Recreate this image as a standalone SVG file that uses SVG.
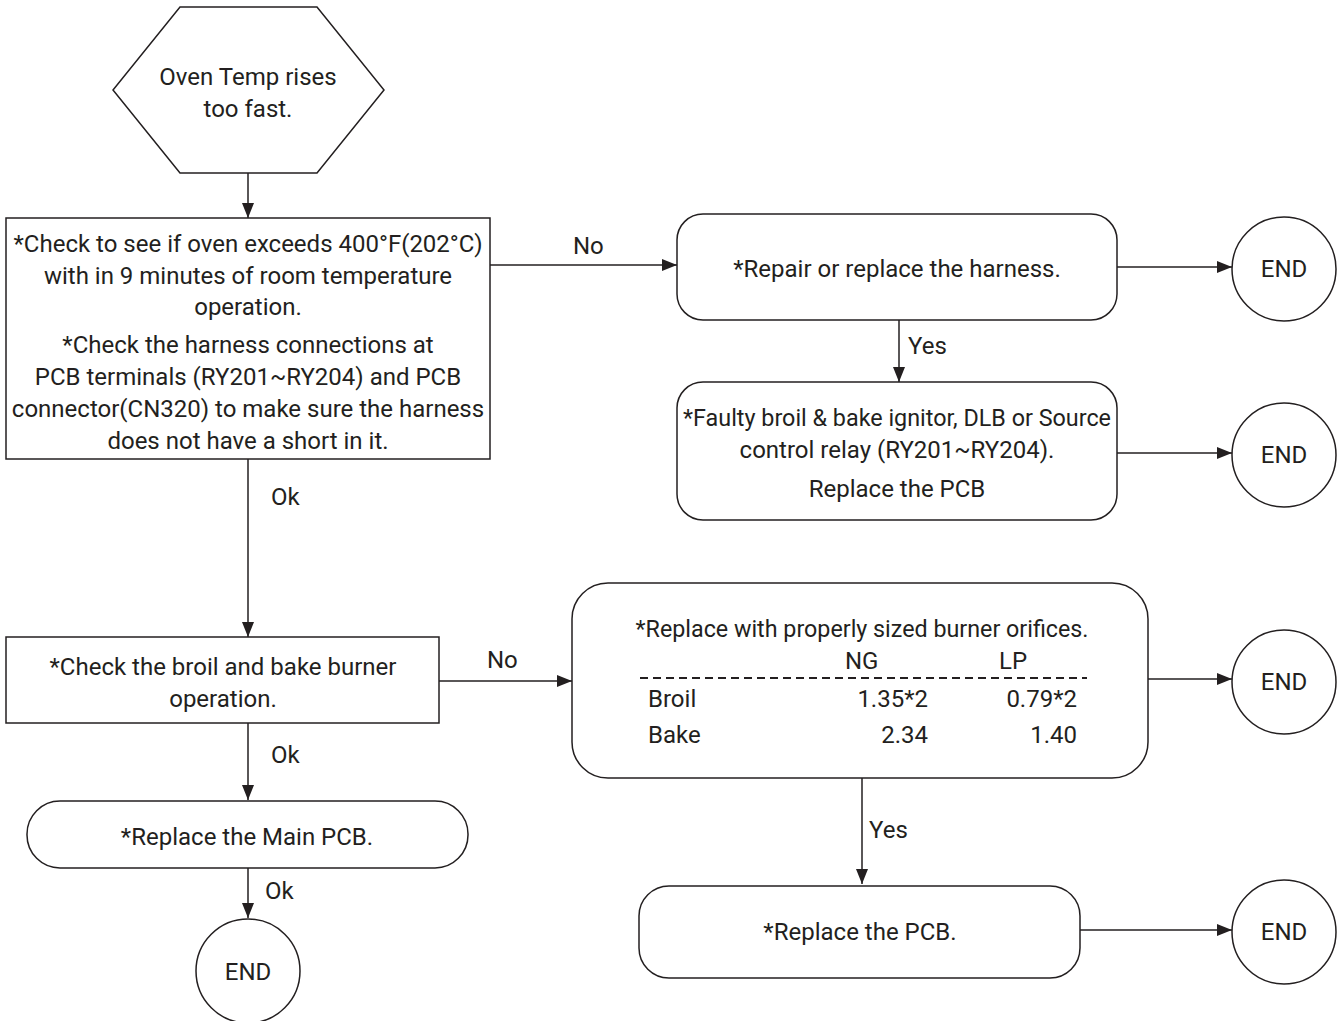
<svg xmlns="http://www.w3.org/2000/svg" width="1340" height="1021" viewBox="0 0 1340 1021">
<defs>
<marker id="ah" viewBox="0 0 15 12" refX="15" refY="6" markerWidth="15" markerHeight="12" markerUnits="userSpaceOnUse" orient="auto">
<path d="M0,0 L15,6 L0,12 Z" fill="#231f20"/>
</marker>
<style>
.s{fill:#fff;stroke:#231f20;stroke-width:1.5}
.t{font-family:Roboto,"Liberation Sans",sans-serif;font-size:24px;fill:#231f20;text-anchor:middle}
.l{font-family:Roboto,"Liberation Sans",sans-serif;font-size:24px;fill:#231f20}
.r{font-family:Roboto,"Liberation Sans",sans-serif;font-size:24px;fill:#231f20;text-anchor:end}
.c{fill:none;stroke:#231f20;stroke-width:1.5}
</style>
</defs>
<rect width="1340" height="1021" fill="#fff"/>
<g id="connectors">
<line class="c" x1="248" y1="173" x2="248" y2="218" marker-end="url(#ah)"/>
<line class="c" x1="490" y1="265" x2="677" y2="265" marker-end="url(#ah)"/>
<text class="l" x="573" y="254">No</text>
<line class="c" x1="1117" y1="267" x2="1232" y2="267" marker-end="url(#ah)"/>
<line class="c" x1="899" y1="320" x2="899" y2="382" marker-end="url(#ah)"/>
<text class="l" x="908" y="354">Yes</text>
<line class="c" x1="1117" y1="453" x2="1232" y2="453" marker-end="url(#ah)"/>
<line class="c" x1="248" y1="458" x2="248" y2="637" marker-end="url(#ah)"/>
<text class="l" x="271" y="505">Ok</text>
<line class="c" x1="439" y1="681" x2="572" y2="681" marker-end="url(#ah)"/>
<text class="l" x="487" y="668">No</text>
<line class="c" x1="1148" y1="679" x2="1232" y2="679" marker-end="url(#ah)"/>
<line class="c" x1="862" y1="778" x2="862" y2="884" marker-end="url(#ah)"/>
<text class="l" x="869" y="838">Yes</text>
<line class="c" x1="1080" y1="930" x2="1232" y2="930" marker-end="url(#ah)"/>
<line class="c" x1="248" y1="723" x2="248" y2="800" marker-end="url(#ah)"/>
<text class="l" x="271" y="763">Ok</text>
<line class="c" x1="248" y1="868" x2="248" y2="918" marker-end="url(#ah)"/>
<text class="l" x="265" y="899">Ok</text>
</g>
<g id="start">
<polygon class="s" points="180,7 317,7 384,90 317,173 180,173 113,90"/>
<text class="t" x="248" y="85">Oven Temp rises</text>
<text class="t" x="248" y="117">too fast.</text>
</g>
<g id="check1">
<rect class="s" x="6" y="218" width="484" height="241"/>
<text class="t" x="248" y="252">*Check to see if oven exceeds 400°F(202°C)</text>
<text class="t" x="248" y="284">with in 9 minutes of room temperature</text>
<text class="t" x="248" y="315">operation.</text>
<text class="t" x="248" y="353">*Check the harness connections at</text>
<text class="t" x="248" y="385">PCB terminals (RY201~RY204) and PCB</text>
<text class="t" x="248" y="417">connector(CN320) to make sure the harness</text>
<text class="t" x="248" y="449">does not have a short in it.</text>
</g>
<g id="repair">
<rect class="s" x="677" y="214" width="440" height="106" rx="26"/>
<text class="t" x="897" y="277">*Repair or replace the harness.</text>
</g>
<g id="end1">
<circle class="s" cx="1284" cy="269" r="52"/>
<text class="t" x="1284" y="277">END</text>
</g>
<g id="faulty">
<rect class="s" x="677" y="382" width="440" height="138" rx="26"/>
<text class="t" x="897" y="426" textLength="428" lengthAdjust="spacingAndGlyphs">*Faulty broil &amp; bake ignitor, DLB or Source</text>
<text class="t" x="897" y="458">control relay (RY201~RY204).</text>
<text class="t" x="897" y="497">Replace the PCB</text>
</g>
<g id="end2">
<circle class="s" cx="1284" cy="455" r="52"/>
<text class="t" x="1284" y="463">END</text>
</g>
<g id="check2">
<rect class="s" x="6" y="637" width="433" height="86"/>
<text class="t" x="223" y="675">*Check the broil and bake burner</text>
<text class="t" x="223" y="707">operation.</text>
</g>
<g id="orifices">
<rect class="s" x="572" y="583" width="576" height="195" rx="36"/>
<text class="t" x="862" y="637" textLength="453" lengthAdjust="spacingAndGlyphs">*Replace with properly sized burner orifices.</text>
<text class="l" x="845" y="669">NG</text>
<text class="l" x="999" y="669">LP</text>
<line x1="640" y1="678" x2="1087" y2="678" stroke="#231f20" stroke-width="2" stroke-dasharray="8,5"/>
<text class="l" x="648" y="707">Broil</text>
<text class="r" x="928" y="707">1.35*2</text>
<text class="r" x="1077" y="707">0.79*2</text>
<text class="l" x="648" y="743">Bake</text>
<text class="r" x="928" y="743">2.34</text>
<text class="r" x="1077" y="743">1.40</text>
</g>
<g id="end3">
<circle class="s" cx="1284" cy="682" r="52"/>
<text class="t" x="1284" y="690">END</text>
</g>
<g id="replacepcb">
<rect class="s" x="639" y="886" width="441" height="92" rx="30"/>
<text class="t" x="860" y="940">*Replace the PCB.</text>
</g>
<g id="end4">
<circle class="s" cx="1284" cy="932" r="52"/>
<text class="t" x="1284" y="940">END</text>
</g>
<g id="mainpcb">
<rect class="s" x="27" y="801" width="441" height="67" rx="33"/>
<text class="t" x="247" y="845">*Replace the Main PCB.</text>
</g>
<g id="end5">
<circle class="s" cx="248" cy="971" r="52"/>
<text class="t" x="248" y="980">END</text>
</g>
</svg>
